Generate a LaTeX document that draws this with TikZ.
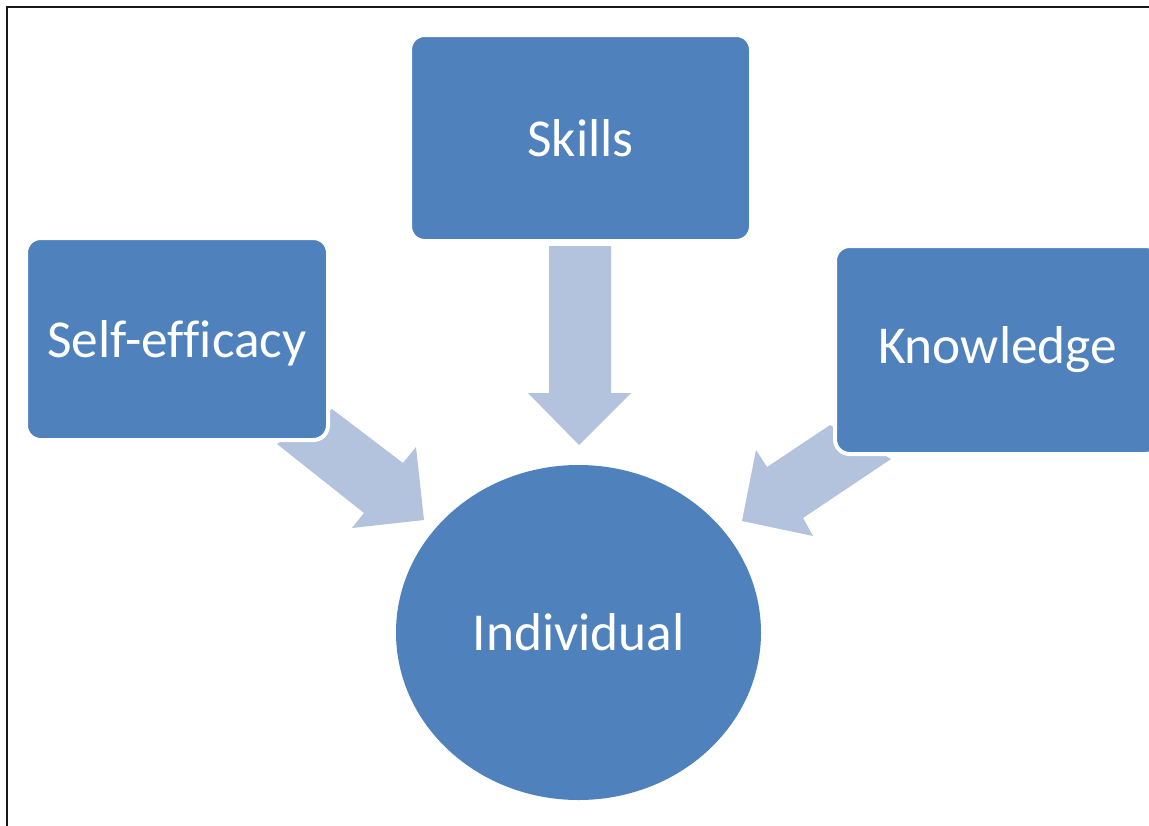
\documentclass[tikz,border=0pt]{standalone}
\usepackage{fontspec}
\setmainfont[Ligatures=NoCommon]{Carlito}
\usetikzlibrary{shapes.geometric}
\definecolor{boxblue}{HTML}{4F81BD}
\definecolor{arrowblue}{HTML}{B3C2DD}
\tikzset{
  box/.style={draw=white, line width=3pt, fill=boxblue, rounded corners=11pt, text=white,
    font=\fontsize{40}{48}\selectfont, inner sep=0pt},
  blockarrow/.style={fill=arrowblue, draw=none},
  frameline/.style={draw=black!90, line width=2pt}
}
\begin{document}
\begin{tikzpicture}[x=0.75pt,y=-0.75pt]
\useasboundingbox (0,0) rectangle (1149,825);
\clip (0,0) rectangle (1149,825);
% frame
\coordinate (fbl) at (7,830);
\coordinate (ftl) at (7,7);
\coordinate (ftr) at (1155,7);
\draw[frameline] (fbl) -- (ftl) -- (ftr);
% arrows (under the boxes)
\fill[blockarrow] (549,246) -- (611,246) -- (611,393) -- (631,393) -- (579,445) -- (528,393) -- (549,393) -- cycle;
\fill[blockarrow] (332,409) -- (403,463) -- (416,447) -- (424,520) -- (352,528) -- (364,513) -- (277,444) -- cycle;
\fill[blockarrow] (830,425) -- (891,459) -- (803,518) -- (813,536) -- (742,521) -- (756,450) -- (767,467) -- cycle;
% nodes
\node[box, minimum width=255.75pt, minimum height=154.5pt, text depth=-2pt] (skills) at (580.5,138) {Skills};
\node[box, minimum width=226.5pt, minimum height=151.5pt, text depth=-2pt] (self) at (177,339) {Self-efficacy};
\node[box, minimum width=243.75pt, minimum height=156pt] (know) at (997.5,350) {Knowledge};
\node[box, ellipse, draw=none, minimum width=273.75pt, minimum height=251.25pt] (ind) at (578.5,632.5) {Individual};
\end{tikzpicture}
\end{document}
